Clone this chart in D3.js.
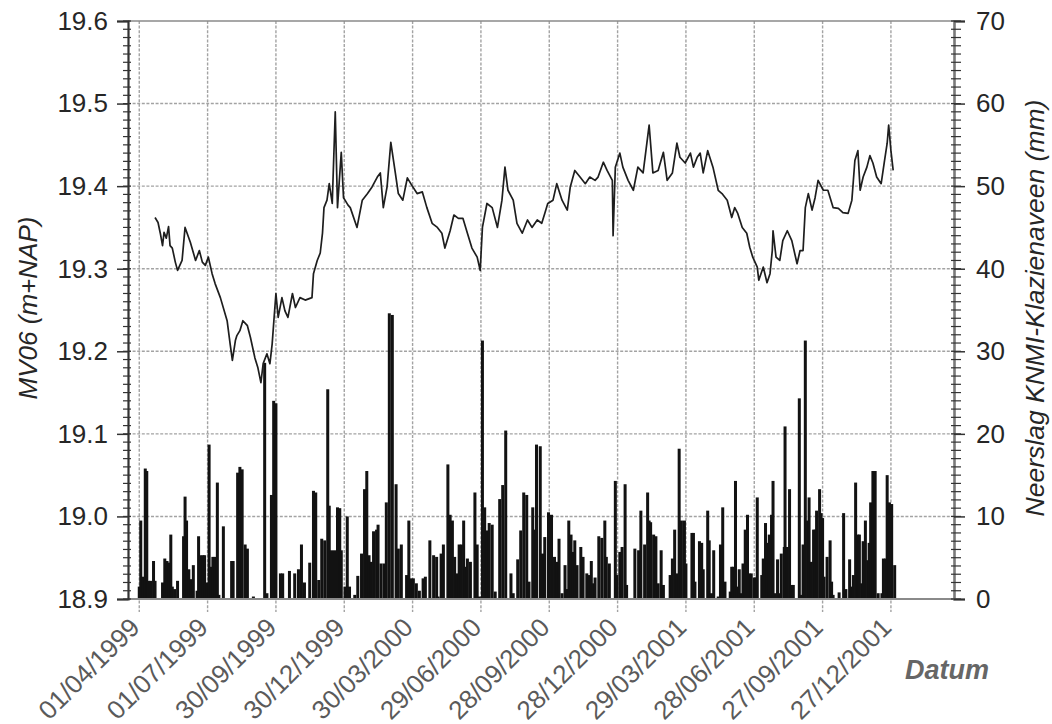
<!DOCTYPE html>
<html><head><meta charset="utf-8">
<script src="https://cdn.jsdelivr.net/npm/d3@7"></script>
<style>body{margin:0;background:#fff}</style>
</head><body>
<svg id="chart" width="1052" height="724"></svg>
<script>
// ---------- data ----------
const baseDate = "01/04/1999";               // day 0 of the series below
const xDomain = ["17/03/1999", "21/03/2002"];
const dateTickLabels = ["01/04/1999","01/07/1999","30/09/1999","30/12/1999","30/03/2000","29/06/2000",
  "28/09/2000","28/12/2000","29/03/2001","28/06/2001","27/09/2001","27/12/2001"];
const leftTicks = [18.9, 19.0, 19.1, 19.2, 19.3, 19.4, 19.5, 19.6];
const rightTicks = [0, 10, 20, 30, 40, 50, 60, 70];
const leftTitle = "MV06 (m+NAP)";
const rightTitle = "Neerslag KNMI-Klazienaveen (mm)";
const xTitle = "Datum";

// groundwater level MV06 (m+NAP): [day since baseDate, value]
const levelSeries = [
[21,19.362],[25,19.356],[28,19.343],[31,19.328],[33,19.344],[36,19.337],[39,19.351],[41,19.328],[44,19.325],
[48,19.308],[51,19.298],[57,19.310],[61,19.350],[68,19.332],[75,19.310],[80,19.322],[84,19.308],[88,19.304],
[92,19.314],[97,19.294],[101,19.282],[108,19.265],[117,19.237],[121,19.209],[124,19.189],[128,19.213],[130,19.219],
[134,19.225],[138,19.237],[144,19.231],[148,19.217],[154,19.192],[158,19.180],[162,19.162],[165,19.185],[170,19.197],
[174,19.185],[177,19.209],[180,19.246],[182,19.270],[185,19.241],[190,19.265],[194,19.249],[198,19.241],[204,19.270],
[208,19.253],[214,19.265],[221,19.262],[230,19.265],[232,19.294],[237,19.310],[241,19.319],[244,19.343],[246,19.374],
[250,19.383],[253,19.403],[257,19.379],[261,19.490],[264,19.374],[269,19.441],[272,19.386],[274,19.383],[278,19.377],
[281,19.374],[290,19.350],[297,19.383],[304,19.391],[310,19.399],[317,19.411],[321,19.416],[325,19.374],[330,19.399],
[335,19.453],[341,19.416],[345,19.391],[351,19.383],[357,19.410],[363,19.401],[370,19.391],[377,19.393],[383,19.374],
[390,19.355],[397,19.350],[403,19.343],[407,19.325],[414,19.346],[419,19.365],[425,19.361],[431,19.361],[437,19.343],
[443,19.325],[450,19.314],[454,19.298],[457,19.350],[463,19.379],[470,19.374],[477,19.350],[483,19.383],[487,19.423],
[491,19.395],[498,19.383],[503,19.355],[510,19.343],[517,19.359],[523,19.350],[530,19.359],[536,19.355],[540,19.367],
[544,19.379],[551,19.383],[556,19.403],[563,19.383],[570,19.371],[574,19.399],[580,19.419],[587,19.411],[594,19.403],
[600,19.411],[607,19.407],[611,19.411],[618,19.429],[623,19.419],[630,19.407],[631,19.340],[634,19.423],[640,19.440],
[644,19.423],[651,19.407],[658,19.395],[664,19.423],[671,19.416],[679,19.474],[684,19.416],[691,19.419],[698,19.441],
[703,19.407],[710,19.416],[716,19.452],[720,19.435],[727,19.428],[734,19.440],[738,19.423],[743,19.435],[747,19.440],
[751,19.416],[757,19.443],[764,19.423],[771,19.395],[776,19.391],[783,19.383],[789,19.362],[793,19.374],[797,19.367],
[803,19.350],[809,19.343],[813,19.326],[817,19.314],[823,19.302],[825,19.286],[831,19.302],[836,19.283],[840,19.294],
[843,19.322],[844,19.346],[848,19.314],[853,19.310],[857,19.334],[863,19.346],[869,19.334],[876,19.306],[880,19.322],
[884,19.322],[887,19.374],[891,19.391],[896,19.371],[900,19.386],[904,19.407],[911,19.395],[917,19.395],[924,19.374],
[931,19.373],[937,19.368],[944,19.367],[949,19.383],[953,19.431],[957,19.443],[960,19.395],[964,19.411],[969,19.423],
[973,19.437],[977,19.428],[982,19.411],[988,19.403],[992,19.428],[996,19.452],[998,19.474],[1001,19.443],[1004,19.419]
];

// daily precipitation KNMI-Klazienaveen (mm): [day since baseDate, mm]
const rainSeries = [
[0,1.5],[2,9.5],[5,2.7],[8,15.8],[10,15.5],[12,2.2],[15,2.2],[19,4.6],[21,2.2],[31,2.0],[34,4.9],[37,4.6],[40,4.4],
[42,7.8],[44,1.5],[47,1.2],[51,2.2],[59,7.6],[61,12.4],[63,9.5],[66,3.6],[69,2.4],[72,4.1],[77,1.0],[79,7.6],[82,5.3],
[85,5.3],[87,5.3],[90,2.0],[93,18.7],[95,3.9],[98,5.1],[101,5.1],[104,14.1],[106,0.5],[112,8.8],[123,4.6],[125,4.6],
[131,15.3],[134,16.0],[137,15.7],[141,6.6],[144,6.1],[152,0.3],[167,28.6],[170,0.7],[176,12.6],[179,24.0],[182,23.7],
[188,3.1],[191,3.1],[200,3.4],[207,3.1],[212,3.6],[216,6.6],[220,2.0],[227,4.4],[232,13.1],[235,12.9],[239,2.3],
[243,7.3],[247,7.1],[251,25.4],[253,11.3],[256,5.9],[260,5.9],[264,11.1],[267,11.0],[269,5.9],[274,1.5],[277,10.0],
[280,1.5],[287,0.5],[291,2.8],[296,5.5],[300,13.3],[303,15.5],[306,5.3],[309,4.5],[312,8.2],[316,8.4],[318,9.0],
[322,4.3],[326,4.3],[329,11.7],[333,34.6],[337,34.4],[342,13.9],[345,6.1],[349,6.6],
[356,2.9],[359,9.5],[362,2.5],[365,2.5],[369,1.9],[373,1.0],[378,2.5],[381,2.7],[387,7.1],[392,5.3],[396,5.1],
[398,0.3],[402,5.5],[405,6.6],[411,16.3],[414,10.2],[417,9.5],[420,5.1],[423,3.1],[426,6.6],[429,6.6],[432,9.5],
[434,3.9],[437,4.9],[441,4.5],[447,12.9],[450,6.6],[453,0.3],[457,31.3],[460,11.1],[463,8.3],[466,9.2],[470,9.0],
[474,0.9],[480,12.1],[484,13.8],[488,20.4],[495,3.1],[498,0.7],[504,4.8],[508,8.3],[512,12.9],[516,12.6],[519,2.1],
[524,11.1],[526,8.4],[529,18.7],[534,18.5],[537,5.5],[540,7.5],[545,10.5],[549,10.2],[553,5.1],[556,4.5],[559,7.3],
[563,0.7],[567,4.1],[569,1.2],[572,9.5],[575,7.8],[578,5.7],[580,7.1],[583,4.1],[588,6.3],[591,5.1],[596,3.1],
[599,2.9],[602,4.6],[605,1.9],[607,2.6],[612,7.6],[616,7.4],[620,9.5],[622,5.1],[626,4.3],[634,14.3],[636,2.9],
[640,5.7],[643,6.3],[647,13.9],[649,1.7],[660,6.1],[665,5.9],[668,10.7],[673,6.6],[677,12.9],[679,9.5],[681,9.3],
[685,7.8],[688,7.6],[691,1.9],[695,5.9],[698,1.7],[707,2.9],[710,4.9],[713,8.4],[716,3.1],[719,18.2],[722,9.5],
[726,9.5],[728,4.3],[736,8.0],[738,8.0],[740,2.1],[746,7.0],[749,6.8],[751,3.6],[757,10.7],[759,7.1],[762,0.7],
[765,5.9],[771,0.3],[774,6.6],[777,11.1],[780,2.1],[787,0.9],[789,3.9],[791,3.9],[794,14.3],[796,1.5],[799,3.6],
[802,0.7],[804,4.3],[807,8.4],[810,10.2],[812,3.1],[815,3.1],[819,2.6],[821,2.6],[823,12.3],[829,2.9],[831,4.9],
[834,9.2],[836,6.8],[839,7.8],[842,10.2],[844,14.3],[847,0.7],[850,4.8],[853,0.7],[855,5.5],[859,6.3],[860,20.9],
[863,6.3],[866,13.3],[869,1.7],[871,1.7],[879,24.3],[882,0.5],[884,6.6],[887,31.3],[890,9.5],[892,12.3],[895,4.5],
[898,8.4],[900,8.4],[902,10.7],[906,13.3],[908,10.4],[910,9.8],[912,2.7],[916,5.1],[920,7.1],[922,2.1],[924,0.5],
[932,0.8],[938,10.4],[941,1.2],[946,4.8],[949,1.5],[951,2.9],[954,14.1],[957,7.8],[959,7.8],[962,1.9],[964,7.0],
[967,9.5],[970,4.7],[972,6.8],[974,11.7],[977,15.5],[980,15.5],[984,0.7],[989,0.7],[991,4.9],[994,4.9],[996,15.0],
[999,11.7],[1002,11.5],[1006,4.1]
];

// ---------- drawing ----------
const FONT = "'Liberation Sans', Arial, Helvetica, sans-serif";
const parse = d3.utcParse("%d/%m/%Y");
const base = parse(baseDate);
const dayToDate = d => d3.utcDay.offset(base, d);

const L = 128, R = 954, T = 21, B = 599;
const svg = d3.select("#chart");

const x = d3.scaleUtc().domain(xDomain.map(parse)).range([L, R]);
const yL = d3.scaleLinear().domain([leftTicks[0], leftTicks[leftTicks.length - 1]]).range([B, T]);
const yR = d3.scaleLinear().domain([rightTicks[0], rightTicks[rightTicks.length - 1]]).range([B, T]);

const tickDates = dateTickLabels.map(parse);

// grid
const grid = svg.append("g").attr("stroke", "#a3a3a3").attr("stroke-width", 1.4).attr("stroke-dasharray", "3,1.6");
grid.selectAll("line.h").data(leftTicks.slice(1, -1)).join("line")
  .attr("x1", L).attr("x2", R).attr("y1", d => yL(d)).attr("y2", d => yL(d));
grid.selectAll("line.v").data(tickDates).join("line")
  .attr("x1", d => x(d)).attr("x2", d => x(d)).attr("y1", T).attr("y2", B + 13);

// precipitation bars
const barW = x(dayToDate(4)) - x(dayToDate(0));
svg.append("g").attr("fill", "#121212")
  .selectAll("rect").data(rainSeries).join("rect")
  .attr("x", d => x(dayToDate(d[0])) - barW / 2)
  .attr("width", barW)
  .attr("y", d => yR(d[1]))
  .attr("height", d => B - yR(d[1]));

// level line
const line = d3.line().x(d => x(dayToDate(d[0]))).y(d => yL(d[1]));
svg.append("path").datum(levelSeries)
  .attr("fill", "none").attr("stroke", "#1e1e1e").attr("stroke-width", 1.7)
  .attr("stroke-linejoin", "round").attr("d", line);

// frame
svg.append("line").attr("x1", L).attr("x2", R).attr("y1", T).attr("y2", T)
  .attr("stroke", "#8a8a8a").attr("stroke-width", 1.6);
svg.append("line").attr("x1", L).attr("x2", R).attr("y1", B).attr("y2", B)
  .attr("stroke", "#8a8a8a").attr("stroke-width", 2.2);

// left axis
const axL = svg.append("g").attr("transform", `translate(${L},0)`)
  .call(d3.axisLeft(yL).tickValues(leftTicks).tickFormat(d3.format(".1f")).tickSize(11).tickPadding(9));
axL.select(".domain").attr("stroke", "#333").attr("stroke-width", 2.2);
axL.selectAll(".tick line").attr("stroke", "#333").attr("stroke-width", 1.5);
axL.selectAll(".tick text").attr("font-family", FONT).attr("font-size", 26).attr("fill", "#262626");
svg.append("g").attr("stroke", "#333").attr("stroke-width", 1.2)
  .selectAll("line").data(yL.ticks(70)).join("line")
  .attr("x1", L - 5).attr("x2", L + 3).attr("y1", d => yL(d)).attr("y2", d => yL(d));

// right axis
const axR = svg.append("g").attr("transform", `translate(${R},0)`)
  .call(d3.axisRight(yR).tickValues(rightTicks).tickSize(11).tickPadding(11));
axR.select(".domain").attr("stroke", "#7a7a7a").attr("stroke-width", 2.6);
axR.selectAll(".tick line").attr("stroke", "#333").attr("stroke-width", 1.5);
axR.selectAll(".tick text").attr("font-family", FONT).attr("font-size", 26).attr("fill", "#262626");
svg.append("g").attr("stroke", "#333").attr("stroke-width", 1.2)
  .selectAll("line").data(yR.ticks(70)).join("line")
  .attr("x1", R - 3).attr("x2", R + 7).attr("y1", d => yR(d)).attr("y2", d => yR(d));

// date labels
svg.append("g").selectAll("text").data(dateTickLabels).join("text")
  .attr("transform", d => `translate(${x(parse(d)) + 2},${B + 30}) rotate(-45)`)
  .attr("text-anchor", "end").attr("font-family", FONT).attr("font-size", 26).attr("fill", "#5a5a5a")
  .text(d => d);

// titles
svg.append("text").attr("transform", `translate(37,308) rotate(-90)`)
  .attr("text-anchor", "middle").attr("font-family", FONT).attr("font-size", 26)
  .attr("font-style", "italic").attr("fill", "#262626").text(leftTitle);
svg.append("text").attr("transform", `translate(1044,308) rotate(-90)`)
  .attr("text-anchor", "middle").attr("font-family", FONT).attr("font-size", 26.5)
  .attr("font-style", "italic").attr("fill", "#262626").text(rightTitle);
svg.append("text").attr("x", 905).attr("y", 679)
  .attr("font-family", FONT).attr("font-size", 27).attr("font-style", "italic").attr("font-weight", "bold")
  .attr("fill", "#666").text(xTitle);
</script>
</body></html>
